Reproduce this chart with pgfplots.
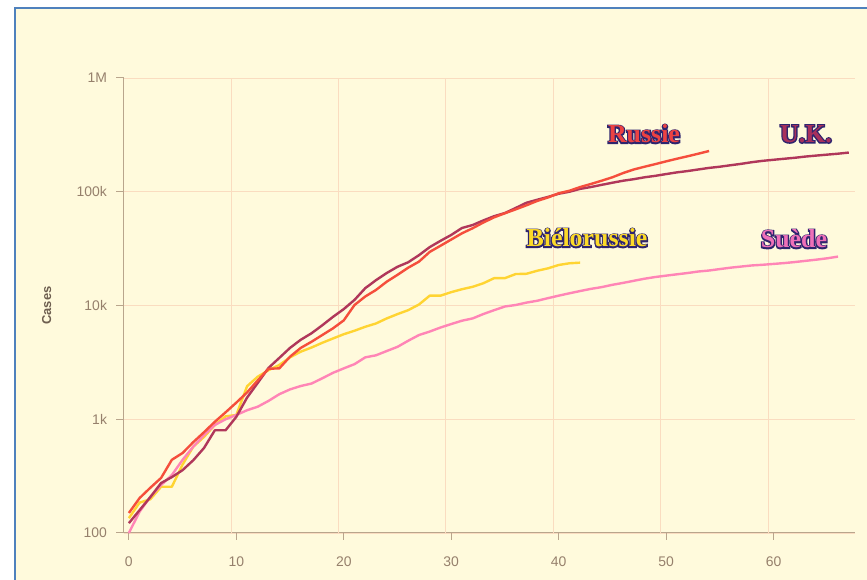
\documentclass[border=0pt]{standalone}
\usepackage{pgfplots}
\pgfplotsset{compat=1.18}
\usepackage{pgfplotstable}
\usepackage{fontspec}
\setmainfont{Liberation Sans}
\newfontfamily\lblfont{Liberation Serif}
\definecolor{bg}{RGB}{255,250,220}
\definecolor{framecol}{RGB}{79,129,189}
\definecolor{axiscol}{RGB}{185,165,140}
\definecolor{gridcol}{RGB}{250,220,192}
\definecolor{tickcol}{RGB}{150,128,108}
\definecolor{labcol}{RGB}{110,95,80}
\definecolor{ru}{RGB}{245,78,60}
\definecolor{uk}{RGB}{176,55,90}
\definecolor{by}{RGB}{255,212,50}
\definecolor{se}{RGB}{255,133,182}
\definecolor{navy}{RGB}{46,36,110}
\definecolor{ruL}{RGB}{236,66,66}
\definecolor{ukL}{RGB}{168,48,92}
\definecolor{byL}{RGB}{252,218,40}
\definecolor{seL}{RGB}{238,112,184}

\pgfplotstableread{
d v
0 122
1 159
2 207
3 275
4 310
5 357
6 437
7 560
8 800
9 800
10 1050
11 1550
12 2090
13 2830
14 3460
15 4240
16 5000
17 5700
18 6700
19 7950
20 9300
21 11200
22 14200
23 16700
24 19300
25 21900
26 24000
27 27700
28 32600
29 37000
30 41700
31 48000
32 51000
33 56000
34 61000
35 65000
36 72000
37 80000
38 85000
39 90000
40 96000
41 100000
42 106000
43 110000
44 115000
45 120000
46 125000
47 129000
48 134000
49 138000
50 143000
51 148000
52 152000
53 157000
54 162000
55 166000
56 171000
57 176000
58 182000
59 187000
60 191000
61 195000
62 199000
63 204000
64 208000
65 212000
66 216000
67 221000
}\ukdata

\pgfplotstableread{
d v
0 150
1 203
2 250
3 305
4 440
5 505
6 630
7 770
8 950
9 1150
10 1400
11 1720
12 2200
13 2780
14 2800
15 3550
16 4240
17 4800
18 5500
19 6300
20 7400
21 10100
22 12000
23 13700
24 16200
25 18600
26 21500
27 24300
28 29600
29 33500
30 38000
31 43100
32 47800
33 53700
34 59600
35 64700
36 70000
37 76000
38 83000
39 89000
40 97000
41 102000
42 110000
43 117000
44 125000
45 134000
46 146000
47 157000
48 166000
49 175000
50 185000
51 195000
52 205000
53 216000
54 228000
}\rudata

\pgfplotstableread{
d v
0 135
1 185
2 198
3 255
4 255
5 400
6 575
7 700
8 890
9 1060
10 1090
11 1950
12 2370
13 2700
14 3000
15 3500
16 3930
17 4270
18 4700
19 5130
20 5590
21 6000
22 6500
23 6950
24 7700
25 8400
26 9100
27 10200
28 12200
29 12200
30 13100
31 13900
32 14600
33 15700
34 17400
35 17400
36 18900
37 19000
38 20200
39 21200
40 22700
41 23500
42 23800
}\bydata

\pgfplotstableread{
d v
0 100
1 154
2 208
3 264
4 323
5 440
6 575
7 727
8 890
9 1000
10 1090
11 1200
12 1290
13 1450
14 1660
15 1830
16 1960
17 2060
18 2290
19 2560
20 2800
21 3050
22 3500
23 3650
24 3980
25 4330
26 4900
27 5500
28 5900
29 6400
30 6870
31 7350
32 7700
33 8420
34 9100
35 9800
36 10100
37 10600
38 11000
39 11600
40 12200
41 12800
42 13400
43 14000
44 14500
45 15200
46 15800
47 16500
48 17200
49 17800
50 18300
51 18800
52 19300
53 19900
54 20300
55 20900
56 21500
57 22000
58 22500
59 22800
60 23200
61 23600
62 24100
63 24700
64 25300
65 26000
66 26900
}\sedata

% outlined text: a stroked navy layer below, the coloured fill on top
\newcommand\olabel[4]{%
  \node[text=navy, inner sep=0pt, font={\lblfont\bfseries\fontsize{26}{26}\selectfont}] at (#1,#2)
    {\special{pdf:literal direct 2 Tr 2.6 w 0.18 0.14 0.43 RG}#4\special{pdf:literal direct 0 Tr}};
  \node[text=#3, inner sep=0pt, font={\lblfont\bfseries\fontsize{26}{26}\selectfont}] at (#1,#2) {#4};}

\begin{document}
\begin{tikzpicture}[x=1bp,y=1bp]
\useasboundingbox (0,0) rectangle (867,580);
\fill[bg] (15,0) rectangle (870,572);
\draw[framecol, line width=1.6bp] (15,-3) -- (15,572) -- (870,572);
\begin{axis}[
  at={(123.5bp,47bp)}, anchor=south west,
  scale only axis, width=731.5bp, height=455bp,
  ymode=log, xmin=-0.5, xmax=67.58, ymin=100, ymax=1000000,
  axis x line*=bottom, axis y line*=left,
  axis line style={axiscol, line width=1bp},
  xtick={0,10,20,30,40,50,60},
  ytick={100,1000,10000,100000,1000000},
  yticklabels={100,1k,10k,100k,1M},
  minor tick style={draw=none},
  tick align=outside,
  major tick length=7bp,
  tick style={axiscol, line width=1bp},
  ymajorgrids,
  major grid style={gridcol, line width=0.9bp},
  extra x ticks={9.5,19.5,29.5,39.5,49.5,59.5},
  extra x tick labels={,,,,,},
  extra x tick style={grid=major, major tick length=0pt},
  /pgf/number format/assume math mode=true,
  tick label style={font=\fontsize{14}{14}\selectfont, text=tickcol},
  xticklabel style={yshift=-13bp},
  yticklabel style={xshift=-6bp},
  ylabel={Cases},
  every axis y label/.style={at={(axis description cs:-0.105,0.5)}, rotate=90, anchor=center,
     font=\bfseries\fontsize{13}{13}\selectfont, text=labcol},
  every axis plot/.append style={line width=2.4bp, line join=round},
  clip=false,
]
\addplot[by] table[x=d,y=v]{\bydata};
\addplot[se] table[x=d,y=v]{\sedata};
\addplot[uk] table[x=d,y=v]{\ukdata};
\addplot[ru] table[x=d,y=v]{\rudata};
\end{axis}
\olabel{644}{446}{ruL}{Russie}
\olabel{806}{446}{ukL}{U.K.}
\olabel{587}{342}{byL}{Biélorussie}
\olabel{794}{341}{seL}{Suède}
\end{tikzpicture}
\end{document}
